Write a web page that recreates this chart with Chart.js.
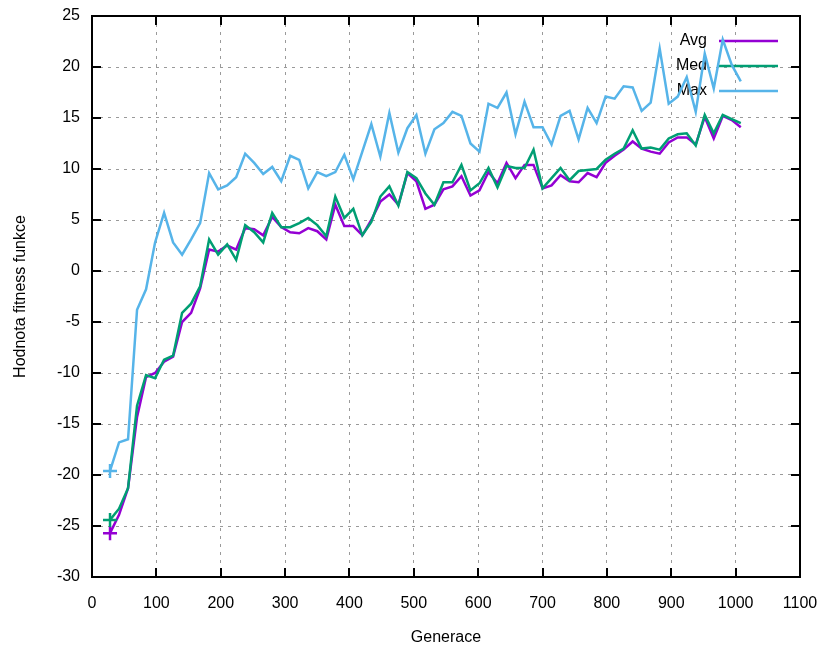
<!DOCTYPE html>
<html>
<head>
<meta charset="utf-8">
<script src="https://cdn.jsdelivr.net/npm/chart.js@4"></script>
<style>
    body { margin: 0; background: #fff; }
    canvas { display: block; }
</style>
</head>
<body>
<canvas id="chart" width="822" height="650"></canvas>
<script>
var generace = [28, 42, 56, 70, 84, 98, 112, 126, 140, 154, 168, 182, 196, 210, 224, 238, 252, 266, 280, 294,
    308, 322, 336, 350, 364, 378, 392, 406, 420, 434, 448, 462, 476, 490, 504, 518, 532, 546, 560, 574,
    588, 602, 616, 630, 644, 658, 672, 686, 700, 714, 728, 742, 756, 770, 784, 798, 812, 826, 840, 854,
    868, 882, 896, 910, 924, 938, 952, 966, 980, 994, 1008];

var avg = [-25.7, -23.9, -21.3, -14.3, -10.4, -10.0, -8.9, -8.4, -5.0, -4.1, -1.7, 2.1, 1.9, 2.5, 2.1, 4.2, 4.1, 3.5, 5.3, 4.3,
    3.8, 3.7, 4.2, 3.9, 3.1, 6.5, 4.4, 4.4, 3.5, 5.0, 6.8, 7.5, 6.5, 9.6, 8.8, 6.1, 6.5, 8.0, 8.3, 9.3,
    7.4, 7.9, 9.7, 8.6, 10.6, 9.1, 10.4, 10.4, 8.1, 8.4, 9.4, 8.8, 8.7, 9.6, 9.2, 10.6, 11.3, 11.9, 12.7, 12.0,
    11.7, 11.5, 12.6, 13.1, 13.1, 12.4, 15.1, 13.0, 15.2, 14.8, 14.1];

var med = [-24.4, -23.3, -21.3, -13.2, -10.2, -10.5, -8.7, -8.3, -4.1, -3.2, -1.5, 3.1, 1.6, 2.6, 1.1, 4.5, 3.8, 2.8, 5.7, 4.3,
    4.3, 4.7, 5.2, 4.5, 3.4, 7.3, 5.2, 6.1, 3.5, 4.8, 7.3, 8.3, 6.4, 9.7, 9.1, 7.6, 6.5, 8.7, 8.7, 10.4,
    7.9, 8.6, 10.1, 8.2, 10.3, 10.1, 10.1, 11.9, 8.1, 9.1, 10.1, 8.9, 9.8, 9.9, 10.0, 10.9, 11.5, 12.0, 13.8, 12.0,
    12.1, 11.9, 13.0, 13.4, 13.5, 12.3, 15.3, 13.5, 15.3, 14.9, 14.5];

var max = [-19.6, -16.8, -16.5, -3.8, -1.8, 2.8, 5.7, 2.8, 1.6, 3.1, 4.7, 9.6, 8.0, 8.4, 9.2, 11.5, 10.6, 9.5, 10.2, 8.8,
    11.3, 10.9, 8.1, 9.7, 9.3, 9.7, 11.4, 9.0, 11.7, 14.4, 11.2, 15.5, 11.6, 14.0, 15.3, 11.5, 13.9, 14.5, 15.6, 15.2,
    12.5, 11.7, 16.4, 16.0, 17.5, 13.4, 16.6, 14.1, 14.1, 12.4, 15.2, 15.7, 12.9, 16.0, 14.5, 17.1, 16.9, 18.1, 18.0, 15.7,
    16.5, 21.8, 16.4, 17.1, 19.0, 15.6, 21.3, 17.9, 22.7, 20.2, 18.6];

var nazvy = ["Avg", "Med", "Max"];
var barvy = ["#9400d3", "#009e73", "#56b4e9"];

var font = "'Liberation Sans', Arial, sans-serif";

function body(hodnoty) {
    return hodnoty.map(function (v, i) { return { x: generace[i], y: v }; });
}

// "+" jen u prvniho bodu
function znacka(ctx) {
    return ctx.dataIndex === 0 ? 7 : 0;
}

function serie(i, hodnoty) {
    return {
        label: nazvy[i],
        data: body(hodnoty),
        borderColor: barvy[i],
        backgroundColor: barvy[i],
        borderWidth: 2.5,
        pointStyle: "cross",
        pointRadius: znacka,
        pointBorderWidth: 2.5,
        pointHoverRadius: 0,
        tension: 0,
        order: 3 - i
    };
}

// legenda ve stylu gnuplotu: text vpravo zarovnany, za nim usecka
var legenda = {
    id: "legenda",
    beforeDatasetsDraw: function (chart) {
        var c = chart.ctx;
        c.save();
        c.font = "16px " + font;
        c.textAlign = "right";
        c.textBaseline = "middle";
        var ys = [41, 66, 91];
        for (var i = 0; i < nazvy.length; i++) {
            c.fillStyle = "#000";
            c.fillText(nazvy[i], 707, ys[i]);
            c.strokeStyle = barvy[i];
            c.lineWidth = 2.5;
            c.beginPath();
            c.moveTo(719, ys[i]);
            c.lineTo(778, ys[i]);
            c.stroke();
        }
        c.restore();
    }
};

// ramecek a tiky dovnitr na vsech ctyrech stranach
var ramecek = {
    id: "ramecek",
    afterDraw: function (chart) {
        var c = chart.ctx;
        var a = chart.chartArea;
        var sx = chart.scales.x;
        var sy = chart.scales.y;
        var t = 9;
        c.save();
        c.strokeStyle = "#000";
        c.lineWidth = 2;
        c.beginPath();
        sx.ticks.forEach(function (tk) {
            var px = Math.round(sx.getPixelForValue(tk.value));
            c.moveTo(px, a.bottom); c.lineTo(px, a.bottom - t);
            c.moveTo(px, a.top); c.lineTo(px, a.top + t);
        });
        sy.ticks.forEach(function (tk) {
            var py = Math.round(sy.getPixelForValue(tk.value));
            c.moveTo(a.left, py); c.lineTo(a.left + t, py);
            c.moveTo(a.right, py); c.lineTo(a.right - t, py);
        });
        c.stroke();
        c.strokeRect(a.left, a.top, a.right - a.left, a.bottom - a.top);
        c.restore();
    }
};

var data = {
    datasets: [serie(0, avg), serie(1, med), serie(2, max)]
};

var options = {
    responsive: false,
    animation: false,
    events: [],
    layout: { padding: { top: 16, right: 22, bottom: 0, left: 0 } },
    plugins: {
        legend: { display: false },
        tooltip: { enabled: false }
    },
    scales: {
        x: {
            type: "linear",
            min: 0,
            max: 1100,
            afterFit: function (s) {
                s.height = 73;
                s.paddingLeft = 0;
                s.paddingRight = 0;
            },
            ticks: {
                stepSize: 100,
                autoSkip: false,
                maxRotation: 0,
                padding: 17,
                color: "#000",
                font: { family: font, size: 16 },
                callback: function (v) { return String(v); }
            },
            grid: { color: "#9a9a9a", lineWidth: 1, drawTicks: false },
            border: { display: false, dash: [3, 5] },
            title: {
                display: true,
                text: "Generace",
                color: "#000",
                font: { family: font, size: 16 },
                padding: { top: 2, bottom: 3 }
            }
        },
        y: {
            type: "linear",
            min: -30,
            max: 25,
            afterFit: function (s) {
                s.width = 92;
                s.paddingTop = 0;
                s.paddingBottom = 0;
            },
            ticks: {
                stepSize: 5,
                autoSkip: false,
                padding: 12,
                color: "#000",
                font: { family: font, size: 16 },
                callback: function (v) { return String(v); }
            },
            grid: { color: "#9a9a9a", lineWidth: 1, drawTicks: false },
            border: { display: false, dash: [3, 5] },
            title: {
                display: true,
                text: "Hodnota fitness funkce",
                color: "#000",
                font: { family: font, size: 16 },
                padding: { top: 11, bottom: 2 }
            }
        }
    }
};

new Chart("chart", {
    type: "line",
    data: data,
    options: options,
    plugins: [legenda, ramecek]
});
</script>
</body>
</html>
